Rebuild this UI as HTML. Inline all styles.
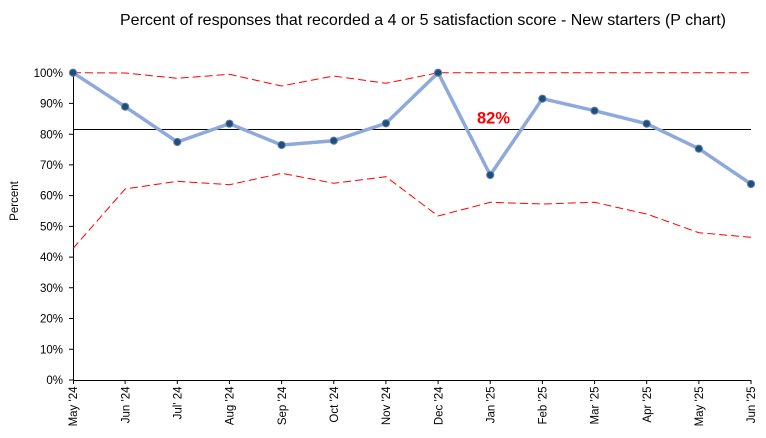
<!DOCTYPE html>
<html>
<head>
<meta charset="utf-8">
<style>
html,body{margin:0;padding:0;background:#fff;}
svg{display:block;}
text{font-family:"Liberation Sans",Arial,sans-serif;fill:#000;}
</style>
</head>
<body>
<svg width="766" height="438" viewBox="0 0 766 438" xmlns="http://www.w3.org/2000/svg">
<rect width="766" height="438" fill="#fff"/>
<text x="120" y="25" font-size="16" textLength="606" lengthAdjust="spacingAndGlyphs">Percent of responses that recorded a 4 or 5 satisfaction score - New starters (P chart)</text>

<!-- y axis labels -->
<g font-size="11.5" text-anchor="end">
<text x="63" y="76.8">100%</text>
<text x="63" y="107.5">90%</text>
<text x="63" y="138.3">80%</text>
<text x="63" y="169">70%</text>
<text x="63" y="199.7">60%</text>
<text x="63" y="230.5">50%</text>
<text x="63" y="261.2">40%</text>
<text x="63" y="291.9">30%</text>
<text x="63" y="322.7">20%</text>
<text x="63" y="353.4">10%</text>
<text x="63" y="384.1">0%</text>
</g>
<text transform="translate(18,201) rotate(-90)" font-size="11.5" text-anchor="middle">Percent</text>

<!-- axes -->
<g stroke="#000" stroke-width="1" fill="none">
<line x1="73.5" y1="72.5" x2="73.5" y2="380.5"/>
<line x1="73" y1="380.5" x2="751.5" y2="380.5"/>
<path d="M69 72.7H73M69 103.4H73M69 134.2H73M69 164.9H73M69 195.6H73M69 226.4H73M69 257.1H73M69 287.8H73M69 318.5H73M69 349.3H73M69 380H73"/>
<path d="M73.5 380V384M125.15 380V384M177.31 380V384M229.46 380V384M281.62 380V384M333.77 380V384M385.92 380V384M438.08 380V384M490.23 380V384M542.38 380V384M594.54 380V384M646.69 380V384M698.85 380V384M751 380V384"/>
</g>

<!-- x labels -->
<g font-size="11.5" text-anchor="end">
<text transform="translate(77.2,386.5) rotate(-90)">May '24</text>
<text transform="translate(129.35,386.5) rotate(-90)">Jun '24</text>
<text transform="translate(181.51,386.5) rotate(-90)">Jul' 24</text>
<text transform="translate(233.66,386.5) rotate(-90)">Aug '24</text>
<text transform="translate(285.82,386.5) rotate(-90)">Sep '24</text>
<text transform="translate(337.97,386.5) rotate(-90)">Oct '24</text>
<text transform="translate(390.12,386.5) rotate(-90)">Nov '24</text>
<text transform="translate(442.28,386.5) rotate(-90)">Dec '24</text>
<text transform="translate(494.43,386.5) rotate(-90)">Jan '25</text>
<text transform="translate(546.58,386.5) rotate(-90)">Feb '25</text>
<text transform="translate(598.74,386.5) rotate(-90)">Mar '25</text>
<text transform="translate(650.89,386.5) rotate(-90)">Apr '25</text>
<text transform="translate(703.05,386.5) rotate(-90)">May '25</text>
<text transform="translate(755.2,386.5) rotate(-90)">Jun '25</text>
</g>

<!-- center line -->
<line x1="73" y1="129.5" x2="751" y2="129.5" stroke="#000" stroke-width="1"/>

<!-- control limits -->
<g stroke="#ff0000" stroke-width="1" fill="none" stroke-dasharray="8 4">
<polyline points="73,72.7 125.15,73 177.31,78.3 229.46,74.3 281.62,86 333.77,76 385.92,83.3 438.08,72.7 490.23,72.7 542.38,72.7 594.54,72.7 646.69,72.7 698.85,72.7 751,72.7"/>
<polyline points="73,248.5 125.15,189 177.31,181.3 229.46,184.7 281.62,173.3 333.77,183.3 385.92,176.7 438.08,216 490.23,202.3 542.38,204 594.54,202.3 646.69,214 698.85,232.7 751,237.3"/>
</g>

<!-- data -->
<polyline fill="none" stroke="#8eaadc" stroke-width="3.5" stroke-linejoin="round" points="73,72.7 125.15,106.7 177.31,142 229.46,123.7 281.62,145 333.77,140.7 385.92,123.3 438.08,72.7 490.23,175 542.38,98.7 594.54,110.7 646.69,123.7 698.85,148.7 751,184"/>
<g fill="#1f4e79" stroke="#5b7fae" stroke-width="1">
<circle cx="73" cy="72.7" r="3.6"/>
<circle cx="125.15" cy="106.7" r="3.6"/>
<circle cx="177.31" cy="142" r="3.6"/>
<circle cx="229.46" cy="123.7" r="3.6"/>
<circle cx="281.62" cy="145" r="3.6"/>
<circle cx="333.77" cy="140.7" r="3.6"/>
<circle cx="385.92" cy="123.3" r="3.6"/>
<circle cx="438.08" cy="72.7" r="3.6"/>
<circle cx="490.23" cy="175" r="3.6"/>
<circle cx="542.38" cy="98.7" r="3.6"/>
<circle cx="594.54" cy="110.7" r="3.6"/>
<circle cx="646.69" cy="123.7" r="3.6"/>
<circle cx="698.85" cy="148.7" r="3.6"/>
<circle cx="751" cy="184" r="3.6"/>
</g>

<text x="477" y="123.3" font-size="16.5" font-weight="bold" style="fill:#ff0000" textLength="33" lengthAdjust="spacingAndGlyphs">82%</text>
</svg>
</body>
</html>
